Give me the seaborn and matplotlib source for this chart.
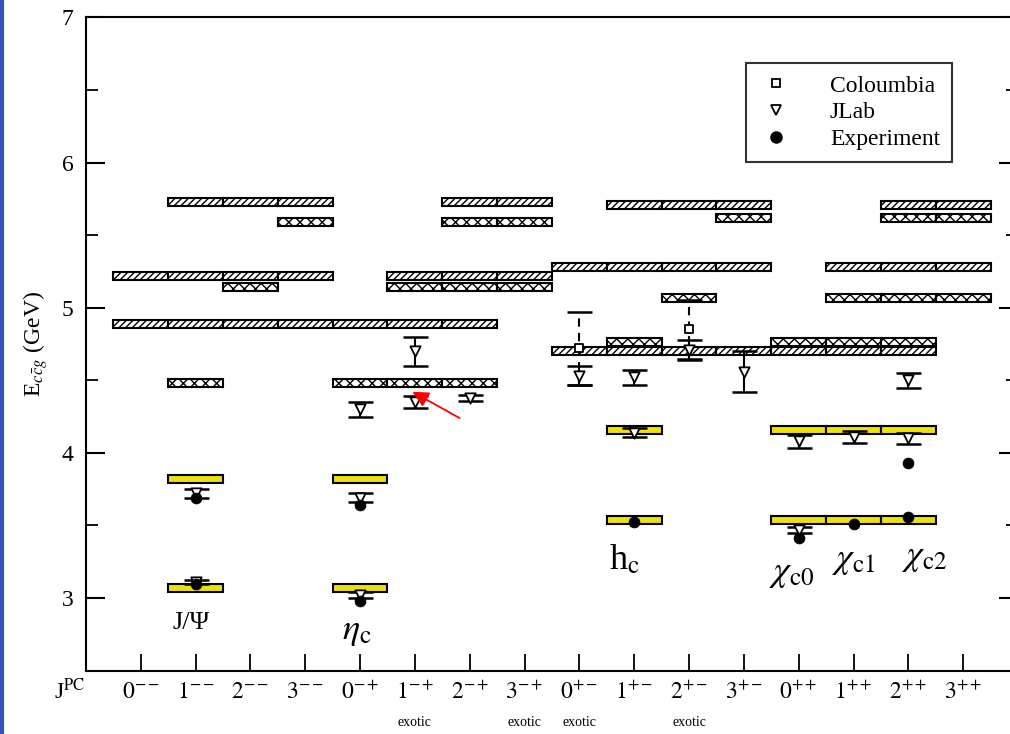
import numpy as np
import pandas as pd
import matplotlib
matplotlib.use("Agg")
import matplotlib.pyplot as plt
from matplotlib.lines import Line2D
import seaborn as sns

# =============================================================================
# Data (energies in GeV)
# =============================================================================
SLOTS = ["0--", "1--", "2--", "3--", "0-+", "1-+", "2-+", "3-+",
         "0+-", "1+-", "2+-", "3+-", "0++", "1++", "2++", "3++"]
SLOT_TEX = [r"$0^{--}$", r"$1^{--}$", r"$2^{--}$", r"$3^{--}$",
            r"$0^{-+}$", r"$1^{-+}$", r"$2^{-+}$", r"$3^{-+}$",
            r"$0^{+-}$", r"$1^{+-}$", r"$2^{+-}$", r"$3^{+-}$",
            r"$0^{++}$", r"$1^{++}$", r"$2^{++}$", r"$3^{++}$"]
EXOTIC = ["1-+", "3-+", "0+-", "2+-"]

# Coloumbia bands (slash hatch)
col_band_E = [5.73, 5.71, 5.22, 5.28, 4.89, 4.70]
col_band_slots = [
    ["1--", "2--", "3--", "2-+", "3-+"],
    ["1+-", "2+-", "3+-", "2++", "3++"],
    ["0--", "1--", "2--", "3--", "1-+", "2-+", "3-+"],
    ["0+-", "1+-", "2+-", "3+-", "1++", "2++", "3++"],
    ["0--", "1--", "2--", "3--", "0-+", "1-+", "2-+"],
    ["0+-", "1+-", "2+-", "3+-", "0++", "1++", "2++"],
]

# JLab bands (triangle hatch)
jlab_band_E = [5.59, 5.62, 5.145, 5.07, 4.48, 4.765]
jlab_band_slots = [
    ["3--", "2-+", "3-+"],
    ["3+-", "2++", "3++"],
    ["2--", "1-+", "2-+", "3-+"],
    ["2+-", "1++", "2++", "3++"],
    ["1--", "0-+", "1-+", "2-+"],
    ["1+-", "0++", "1++", "2++"],
]

# yellow bands
yel_band_E = [3.82, 3.07, 4.16, 3.54]
yel_band_slots = [
    ["1--", "0-+"],
    ["1--", "0-+"],
    ["1+-", "0++", "1++", "2++"],
    ["1+-", "0++", "1++", "2++"],
]

# JLab points with errors
jlab_slot = ["1--", "1--", "0-+", "0-+", "0-+", "1-+", "1-+", "2-+", "0+-",
             "1+-", "1+-", "2+-", "3+-", "0++", "0++", "1++", "2++", "2++"]
jlab_E = [3.72, 3.11, 4.30, 3.69, 3.02, 4.70, 4.35, 4.38, 4.53,
          4.52, 4.14, 4.71, 4.56, 4.08, 3.47, 4.11, 4.50, 4.10]
jlab_err = [0.03, 0.015, 0.05, 0.03, 0.02, 0.10, 0.04, 0.02, 0.065,
            0.05, 0.03, 0.07, 0.14, 0.045, 0.02, 0.04, 0.05, 0.04]

# Coloumbia points (dashed error bars)
col_slot = ["0+-", "2+-"]
col_E = [4.72, 4.85]
col_err = [0.25, 0.20]

# Experiment
exp_slot = ["1--", "1--", "0-+", "0-+", "1+-", "0++", "1++", "2++", "2++"]
exp_E = [3.097, 3.686, 2.98, 3.64, 3.525, 3.415, 3.51, 3.556, 3.93]

# state names
name_text = ["J/Ψ", r"$\eta_{\rm c}$", r"h$_{\rm c}$",
             r"$\chi_{\rm c0}$", r"$\chi_{\rm c1}$", r"$\chi_{\rm c2}$"]
name_x = [1.92, 4.94, 9.83, 12.88, 14.0, 15.3]
name_y = [2.83, 2.77, 3.26, 3.17, 3.26, 3.28]
name_size = [19, 26, 26, 26, 26, 26]


# =============================================================================
# Styling
# =============================================================================
sns.set_style("white")
plt.rcParams.update({
    "font.family": ["Liberation Serif", "DejaVu Serif"],
    "mathtext.fontset": "stix",
    "hatch.linewidth": 1.0,
    "axes.linewidth": 1.5,
    "axes.edgecolor": "black",
    "text.color": "black",
    "axes.labelcolor": "black",
    "xtick.color": "black",
    "ytick.color": "black",
})

POS = {s: i + 1 for i, s in enumerate(SLOTS)}
BAND_H = 0.055


def expand(levels, slots):
    rows = [(POS[s], e) for e, group in zip(levels, slots) for s in group]
    return pd.DataFrame(rows, columns=["x", "E"])


fig = plt.figure(figsize=(10.10, 7.34), dpi=100)
ax = fig.add_axes([0.0851, 0.0865, 0.9228, 0.8897])

col_df = expand(col_band_E, col_band_slots)
jlab_df = expand(jlab_band_E, jlab_band_slots)
yel_df = expand(yel_band_E, yel_band_slots)

ax.bar(col_df["x"], BAND_H, bottom=col_df["E"] - BAND_H / 2, width=1.0,
       facecolor="white", edgecolor="black", hatch="/////", linewidth=1.5, zorder=2)
ax.bar(jlab_df["x"], BAND_H, bottom=jlab_df["E"] - BAND_H / 2, width=1.0,
       facecolor="white", edgecolor="black", hatch="xxx", linewidth=1.5, zorder=2)
ax.bar(yel_df["x"], BAND_H, bottom=yel_df["E"] - BAND_H / 2, width=1.0,
       facecolor="#ede10c", edgecolor="black", linewidth=1.5, zorder=2)

# JLab points
jl = pd.DataFrame({"x": [POS[s] for s in jlab_slot], "E": jlab_E, "err": jlab_err})
ax.errorbar(jl["x"], jl["E"], yerr=jl["err"], fmt="none", ecolor="black",
            elinewidth=1.5, capsize=9, capthick=1.8, zorder=3)
sns.scatterplot(data=jl, x="x", y="E", marker="v", s=55, facecolor="white",
                edgecolor="black", linewidth=1.3, zorder=4, ax=ax, legend=False)

# Coloumbia points
cl = pd.DataFrame({"x": [POS[s] for s in col_slot], "E": col_E, "err": col_err})
eb = ax.errorbar(cl["x"], cl["E"], yerr=cl["err"], fmt="none", ecolor="black",
                 elinewidth=1.5, capsize=9, capthick=1.8, zorder=3)
eb[2][0].set_linestyle((0, (4, 3)))
sns.scatterplot(data=cl, x="x", y="E", marker="s", s=40, facecolor="white",
                edgecolor="black", linewidth=1.3, zorder=4, ax=ax, legend=False)

# Experiment
ex = pd.DataFrame({"x": [POS[s] for s in exp_slot], "E": exp_E})
sns.scatterplot(data=ex, x="x", y="E", marker="o", s=60, color="black",
                edgecolor="black", zorder=5, ax=ax, legend=False)

for t, x, y, fs in zip(name_text, name_x, name_y, name_size):
    ax.text(x, y, t, fontsize=fs, ha="center", va="center", zorder=6)

# red arrow pointing at the 1-+ level
ax.annotate("", xy=(5.91, 4.43), xytext=(6.86, 4.23),
            arrowprops=dict(arrowstyle="-|>", color="red", lw=1.3,
                            mutation_scale=24), zorder=7)

# axes
ax.set_xlim(0, 17)
ax.set_ylim(2.5, 7)
ax.set_xticks(range(1, 17))
ax.set_xticklabels(SLOT_TEX, fontsize=17)
ax.set_yticks([3, 4, 5, 6, 7])
ax.set_yticks([2.5, 3.5, 4.5, 5.5, 6.5], minor=True)
ax.tick_params(axis="y", which="major", direction="in", length=14, width=1.5,
               labelsize=17, pad=9, right=True, left=True)
ax.tick_params(axis="y", which="minor", direction="in", length=8.5, width=1.3,
               right=True, left=True)
ax.tick_params(axis="x", which="major", direction="in", length=12, width=1.3,
               pad=8, bottom=True)
ax.set_xlabel("")
ax.set_ylabel(r"E$_{c\bar{c}g}$ (GeV)", fontsize=17, labelpad=8)

# J^PC and exotic labels under the axis
trans = ax.get_xaxis_transform()
ax.text(-0.3, -0.032, r"J$^{\rm PC}$", transform=trans, fontsize=17,
        ha="center", va="center", clip_on=False)
for s in EXOTIC:
    ax.text(POS[s], -0.08, "exotic", transform=trans, fontsize=10,
            ha="center", va="center", clip_on=False)

handles = [
    Line2D([], [], ls="none", marker="s", ms=6, mfc="white", mec="black", mew=1.3),
    Line2D([], [], ls="none", marker="v", ms=7, mfc="white", mec="black", mew=1.3),
    Line2D([], [], ls="none", marker="o", ms=8, mfc="black", mec="black"),
]
leg = ax.legend(handles, ["Coloumbia", "JLab", "Experiment"], loc="upper right",
                bbox_to_anchor=(0.929, 0.930), borderaxespad=0, fontsize=17,
                frameon=True, fancybox=False, handletextpad=1.55,
                labelspacing=0.22, borderpad=0.5, handlelength=1.5)
leg.get_frame().set_edgecolor("black")
leg.get_frame().set_linewidth(1.5)

# screenshot border on the left
fig.add_artist(Line2D([0.002, 0.002], [0, 1], transform=fig.transFigure,
                      color="#3a4fc0", lw=3))

fig.savefig("out.png", dpi=100)
